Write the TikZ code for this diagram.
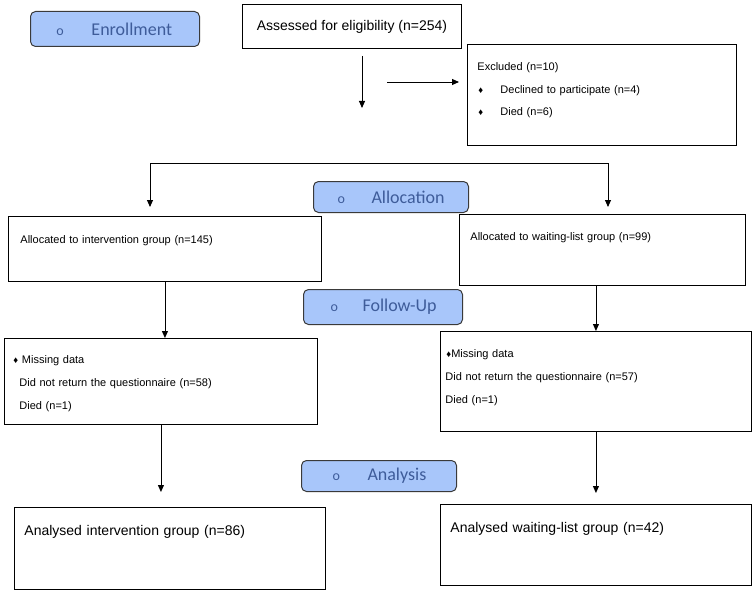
\documentclass[tikz,border=0pt]{standalone}
\usepackage{fontspec}
\setmainfont{Liberation Sans}
\newfontfamily\phasefont{Carlito}
\usetikzlibrary{arrows.meta}
\definecolor{consFill}{HTML}{A8C6FA}
\definecolor{consText}{HTML}{3E5C9A}
\definecolor{consEdge}{HTML}{3A3A3A}
\newcommand{\consbullet}{{\fontsize{9.5}{9.5}\selectfont ♦}}
\newcommand{\phasedot}{{\fontsize{14}{14}\selectfont o}}
\tikzset{
  cons box/.style={draw=black, line width=0.9pt, anchor=north west, inner ysep=0pt, align=left, font=\fontsize{11}{22.5}\selectfont},
  cons big/.style={font=\fontsize{14}{16}\selectfont},
  cons phase/.style={draw=consEdge, fill=consFill, line width=1pt, rounded corners=5pt, anchor=north west, inner xsep=0pt, inner ysep=0pt, align=left, text=consText, font=\phasefont\fontsize{18}{20}\selectfont},
  cons line/.style={draw=black, line width=0.9pt},
  cons arrow/.style={cons line, -{Triangle[length=7pt,width=6pt]}},
}

\begin{document}
\begin{tikzpicture}[x=1pt,y=-1pt]
  \useasboundingbox (0,0) rectangle (756,594);
  % phase labels
  \node[cons phase, text width=169pt, minimum height=35pt] (enrol) at (30,11) {\hspace*{26pt}\makebox[35pt][l]{\phasedot}Enrollment};
  \node[cons phase, text width=155pt, minimum height=31pt] (alloc) at (313,181) {\hspace*{24pt}\makebox[34pt][l]{\phasedot}Allocation};
  \node[cons phase, text width=159pt, minimum height=35pt] (follow) at (303,289) {\hspace*{27pt}\makebox[32pt][l]{\phasedot}Follow-Up};
  \node[cons phase, text width=155pt, minimum height=31pt] (analysis) at (301,460) {\hspace*{31pt}\makebox[35pt][l]{\phasedot}Analysis};
  % enrolment
  \node[cons box, cons big, align=center, minimum width=219pt, minimum height=44pt, inner sep=0pt] (assess) at (242,4) {Assessed for eligibility (n=254)};
  \node[cons box, inner xsep=10pt, text width=249pt, text height=26.5pt, text depth=74.5pt] (excl) at (467,44)
    {Excluded (n=10)\\
     \makebox[23pt][l]{\hspace*{1pt}\consbullet}Declined to participate (n=4)\\
     \makebox[23pt][l]{\hspace*{1pt}\consbullet}Died (n=6)};
  % allocation
  \node[cons box, inner xsep=12pt, text width=289pt, text height=27pt, text depth=38pt] (allocl) at (8,216) {Allocated to intervention group (n=145)};
  \node[cons box, inner xsep=11pt, text width=264pt, text height=26pt, text depth=45pt] (allocr) at (459,214) {Allocated to waiting-list group (n=99)};
  % follow-up
  \node[cons box, inner xsep=9pt, text width=295pt, text height=25pt, text depth=61pt, font=\fontsize{11}{23}\selectfont] (missl) at (4,338)
    {\consbullet\ Missing data\\
     \hspace*{6pt}Did not return the questionnaire (n=58)\\
     \hspace*{6pt}Died (n=1)};
  \node[cons box, inner xsep=5pt, text width=301pt, text height=26pt, text depth=74pt, font=\fontsize{11}{23}\selectfont] (missr) at (440,331)
    {\hspace*{1pt}\consbullet Missing data\\
     Did not return the questionnaire (n=57)\\
     Died (n=1)};
  % analysis
  \node[cons box, cons big, inner xsep=10pt, text width=291pt, text height=28pt, text depth=54pt] (anall) at (14,507) {Analysed intervention group (n=86)};
  \node[cons box, cons big, inner xsep=10pt, text width=291pt, text height=28pt, text depth=53pt] (analr) at (440,504) {Analysed waiting-list group (n=42)};
  % connectors
  \coordinate (elig end) at (362,108);
  \coordinate (excl start) at (387,82);
  \coordinate (split l) at (150,163);
  \coordinate (split r) at (608,163);
  \draw[cons arrow, shorten <=7pt] (assess.south -| elig end) -- (elig end);
  \draw[cons arrow, shorten >=8pt] (excl start) -- (excl.west |- excl start);
  \draw[cons arrow, shorten >=9pt] (split r) -- (split l) -- (split l |- allocl.north);
  \draw[cons arrow, shorten >=7pt] (split r) -- (split r |- allocr.north);
  \draw[cons arrow] (allocl.south) -- (allocl.south |- missl.north);
  \draw[cons arrow] (allocr.south -| missr.north) -- (missr.north);
  \draw[cons arrow, shorten >=15pt] (missl.south) -- (missl.south |- anall.north);
  \draw[cons arrow, shorten >=11pt] (missr.south) -- (missr.south |- analr.north);
\end{tikzpicture}
\end{document}
